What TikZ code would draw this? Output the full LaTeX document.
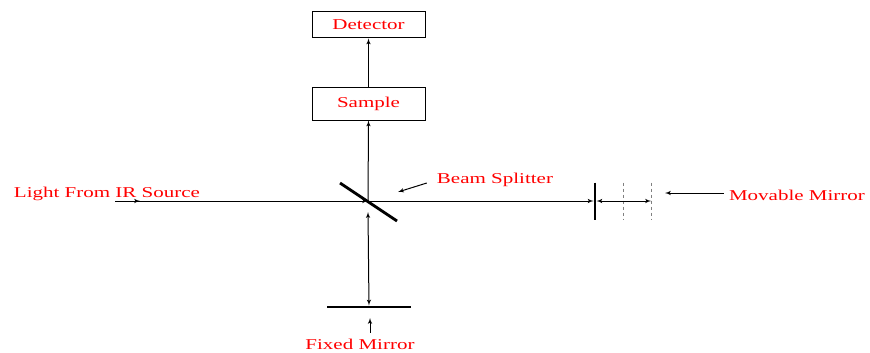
\documentclass[tikz,border=0pt]{standalone}
\usepackage{fontspec}
\usepackage{tikz}
\usetikzlibrary{arrows}
\usetikzlibrary{math}
\newfontfamily\lblfont[FakeStretch=1.4]{Liberation Serif}
\tikzstyle{box} = [rectangle, draw=black, line width=1pt, minimum width=113pt, text=red, font=\lblfont\fontsize{15}{18}\selectfont, inner sep=0pt]
\tikzstyle{lbl} = [text=red, font=\lblfont\fontsize{15}{18}\selectfont, inner sep=0pt]
\tikzstyle{mirror} = [line width=2.8pt]
\tikzstyle{ray} = [line width=1pt]
\tikzstyle{ghost} = [line width=0.6pt, gray, dashed]

\begin{document}
\begin{tikzpicture}[x=1pt, y=-1pt, >=latex']

  \useasboundingbox (0,0) rectangle (870,353);
  \tikzmath{\mh = 18.5; \dx = 28;}

  % boxes
  \node[box, minimum height=26pt] (det) at (368.5,25) {Detector};
  \node[box, minimum height=33pt] (smp) at (368.5,103.5) {Sample};

  % beam path points
  \coordinate (bs) at (368,201);
  \coordinate (src) at (115,201);
  \coordinate (mm) at (595,201);
  \coordinate (d1) at (mm -| 623,0);
  \coordinate (d2) at (mm -| 651,0);
  \coordinate (fm) at (369,307);

  % mirrors
  \draw[mirror] ([shift={(-28,-18)}]bs) -- ([shift={(29,20)}]bs);
  \draw[mirror] ([yshift=\mh pt]mm) -- ([yshift=-\mh pt]mm);
  \draw[ghost] ([yshift=\mh pt]d1) -- ([yshift=-\mh pt]d1);
  \draw[ghost] ([yshift=\mh pt]d2) -- ([yshift=-\mh pt]d2);
  \draw[mirror] ([xshift=-42pt]fm) -- ([xshift=42pt]fm);

  % rays
  \draw[ray,->] (src) -- ++(25,0);
  \draw[ray,->] (src) -- (bs);
  \draw[ray,->, shorten >=1.5pt] (bs) -- (mm);
  \draw[ray,<->, shorten <=1.5pt] (mm) -- (d2);
  \draw[ray,<->, shorten >=1.5pt] ([yshift=-11pt]bs) -- (fm);
  \draw[ray,->] (bs) -- (smp.south);
  \draw[ray,->] (smp.north) -- (det.south);

  % labels
  \node[lbl] (src lbl) at (107,194) {Light From IR Source};
  \node[lbl] (bs lbl) at (495,180) {Beam Splitter};
  \node[lbl] (mm lbl) at (797,195) {Movable Mirror};
  \node[lbl] (fm lbl) at (360,344) {Fixed Mirror};

  \coordinate (bs tip) at (398,192);
  \coordinate (mm tip) at (665,193);
  \coordinate (fm tip) at (370,318);
  \draw[ray,->] ([shift={(-10,3)}]bs lbl.west) -- (bs tip);
  \draw[ray,->] ([shift={(-5,-2)}]mm lbl.west) -- (mm tip);
  \draw[ray,->] ([yshift=6pt]fm lbl.north -| fm tip) -- (fm tip);

\end{tikzpicture}
\end{document}
